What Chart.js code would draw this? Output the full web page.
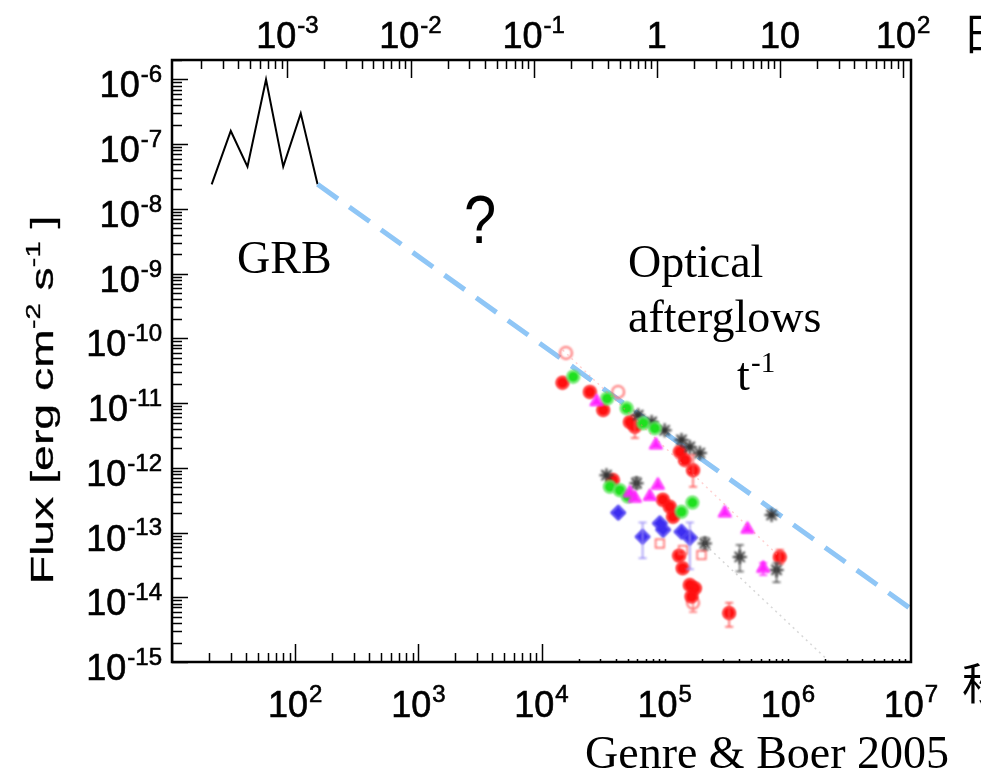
<!DOCTYPE html>
<html>
<head>
<meta charset="utf-8">
<script src="https://cdn.jsdelivr.net/npm/chart.js@4"></script>
<style>
  html, body { margin: 0; padding: 0; background: #fff; }
  #wrap { width: 981px; height: 776px; }
</style>
</head>
<body>
<div id="wrap"><canvas id="fluxChart" width="981" height="776"></canvas></div>
<script>
const SEC_PER_DAY = 86400;

// prompt GRB pulse (s, erg cm-2 s-1)
const grbTime = [21, 30, 41, 58, 80, 111, 152];
const grbFlux = [2.4e-8, 1.6e-7, 4.5e-8, 1.0e-6, 4.5e-8, 3.0e-7, 2.4e-8];

// power-law extrapolation from the end of the burst
const decayTime = [152, 1e7];
const decayFlux = [2.4e-8, 6.6e-15];

// faint model curves through the afterglow points
const pinkTrendTime = [1.49e4, 8.6e5];
const pinkTrendFlux = [6.6e-11, 4.2e-14];
const greyTrendTime = [1.82e5, 2.19e6];
const greyTrendFlux = [8.6e-14, 1.0e-15];

// optical afterglows
const redTime = [1.48e4, 2.47e4, 3.17e4, 5.22e4, 5.73e4, 1.33e5, 1.46e5, 1.70e5, 3.8e4, 9.67e4, 1.10e5, 1.17e5, 1.31e5, 1.40e5, 1.60e5, 1.76e5, 1.65e5, 3.34e5, 8.61e5];
const redFlux = [2.06e-11, 1.49e-11, 7.8e-12, 5.1e-12, 4.3e-12, 1.77e-12, 1.32e-12, 9.2e-13, 6.5e-13, 3.2e-13, 2.5e-13, 1.76e-13, 4.4e-14, 2.8e-14, 1.55e-14, 1.38e-14, 1.03e-14, 5.7e-15, 4.2e-14];
const redLo = [null, null, null, null, 2.9e-12, null, null, 5.1e-13, null, null, null, null, null, null, null, null, null, 3.5e-15, 3.3e-14];
const redHi = [null, null, null, null, 6.5e-12, null, null, 1.6e-12, null, null, null, null, null, null, null, null, null, 8.2e-15, 5.4e-14];

const redOpenTime = [1.58e4, 4.19e4, 1.70e5];
const redOpenFlux = [5.97e-11, 1.49e-11, 8.2e-15];
const redOpenLo = [null, null, 5.9e-15];
const redOpenHi = [null, null, 1.0e-14];

const greenTime = [1.81e4, 3.41e4, 4.91e4, 6.70e4, 8.32e4, 3.59e4, 4.33e4, 5.02e4, 1.37e5, 1.68e5];
const greenFlux = [2.55e-11, 1.18e-11, 8.3e-12, 4.9e-12, 4.1e-12, 5.1e-13, 4.5e-13, 3.6e-13, 2.1e-13, 2.9e-13];

const magentaTime = [2.80e4, 8.49e4, 5.22e4, 5.73e4, 7.59e4, 8.81e4, 3.08e5, 4.71e5, 6.31e5];
const magentaFlux = [1.05e-11, 2.25e-12, 4.1e-13, 3.4e-13, 3.6e-13, 5.4e-13, 2.0e-13, 1.12e-13, 2.8e-14];
const magentaLo = [null, null, null, null, null, null, null, null, 2.2e-14];
const magentaHi = [null, null, null, null, null, null, null, null, 3.4e-14];

const blackTime = [6.10e4, 7.84e4, 1.00e5, 1.37e5, 1.60e5, 1.93e5, 3.37e4, 5.91e4, 2.12e5, 4.07e5, 7.38e5, 8.10e5];
const blackFlux = [6.5e-12, 5.1e-12, 3.8e-12, 2.7e-12, 2.1e-12, 1.69e-12, 7.7e-13, 5.8e-13, 6.8e-14, 4.2e-14, 1.87e-13, 2.65e-14];
const blackLo = [null, null, null, null, null, null, null, 4.9e-13, 5.4e-14, 2.5e-14, null, 1.7e-14];
const blackHi = [null, null, null, null, null, null, null, 7.0e-13, 8.3e-14, 6.4e-14, null, 3.4e-14];

const blueTime = [4.20e4, 6.62e4, 9.14e4, 9.72e4, 1.37e5, 1.60e5];
const blueFlux = [2.03e-13, 8.6e-14, 1.39e-13, 1.10e-13, 1.03e-13, 8.3e-14];
const blueLo = [null, 4.0e-14, null, null, null, 2.7e-14];
const blueHi = [null, 1.43e-13, null, null, null, 1.43e-13];

const squareTime = [9.14e4, 1.41e5, 1.99e5];
const squareFlux = [6.8e-14, 5.4e-14, 4.5e-14];

// tick labels: [mantissa, exponent]
const bottomTicks = [1e2, 1e3, 1e4, 1e5, 1e6, 1e7];
const bottomLabels = [['10', '2'], ['10', '3'], ['10', '4'], ['10', '5'], ['10', '6'], ['10', '7']];
const topTicks = [1e-3, 1e-2, 1e-1, 1, 10, 100]; // days
const topLabels = [['10', '-3'], ['10', '-2'], ['10', '-1'], ['1', ''], ['10', ''], ['10', '2']];
const leftTicks = [1e-6, 1e-7, 1e-8, 1e-9, 1e-10, 1e-11, 1e-12, 1e-13, 1e-14, 1e-15];
const leftLabels = leftTicks.map(v => ['10', String(Math.round(Math.log10(v)))]);

const SANS = '"Liberation Sans", Arial, Helvetica, sans-serif';
const SERIF = '"Liberation Serif", "Times New Roman", serif';

function pts(xs, ys) {
    return xs.map((x, i) => ({ x: x, y: ys[i] }));
}

function errs(lo, hi) {
    return lo.map((l, i) => (l === null ? null : [l, hi[i]]));
}

// "10" with a raised exponent, slightly heavy like the axis lettering
function drawPower(ctx, base, exp, x, y, align, size) {
    const expSize = Math.round(size * 0.66);
    ctx.font = `${size}px ${SANS}`;
    const bw = ctx.measureText(base).width;
    ctx.font = `${expSize}px ${SANS}`;
    const ew = exp ? ctx.measureText(exp).width + 1 : 0;
    const total = bw + ew;
    let x0 = x;
    if (align === 'right') x0 = x - total;
    if (align === 'center') x0 = x - total / 2;
    ctx.textAlign = 'left';
    ctx.textBaseline = 'alphabetic';
    ctx.lineWidth = 0.6;
    ctx.font = `${size}px ${SANS}`;
    ctx.fillText(base, x0, y);
    ctx.strokeText(base, x0, y);
    if (exp) {
        ctx.font = `${expSize}px ${SANS}`;
        ctx.fillText(exp, x0 + bw + 1, y - size * 0.42);
        ctx.strokeText(exp, x0 + bw + 1, y - size * 0.42);
    }
}

// soft look + error bars for the afterglow markers
const markerPlugin = {
    id: 'markerExtras',
    beforeDatasetDraw(chart, args) {
        const ds = chart.data.datasets[args.index];
        if (ds.soft) {
            chart.ctx.save();
            chart.ctx.filter = 'blur(1px)';
        }
    },
    afterDatasetDraw(chart, args) {
        const ds = chart.data.datasets[args.index];
        const ctx = chart.ctx;
        if (ds.errors) {
            const { x, y } = chart.scales;
            ctx.save();
            ctx.strokeStyle = ds.errorColor || ds.borderColor;
            ctx.lineWidth = 1.5;
            ds.errors.forEach((e, i) => {
                if (!e) return;
                const px = x.getPixelForValue(ds.data[i].x);
                const y1 = y.getPixelForValue(e[0]);
                const y2 = y.getPixelForValue(e[1]);
                ctx.beginPath();
                ctx.moveTo(px, y1); ctx.lineTo(px, y2);
                ctx.moveTo(px - 4, y1); ctx.lineTo(px + 4, y1);
                ctx.moveTo(px - 4, y2); ctx.lineTo(px + 4, y2);
                ctx.stroke();
            });
            ctx.restore();
        }
        if (ds.soft) ctx.restore();
    }
};

// frame with inward log ticks, powers-of-ten labels and annotations
const framePlugin = {
    id: 'frame',
    afterDatasetsDraw(chart) {
        const { ctx, chartArea: a } = chart;
        const x = chart.scales.x;
        const y = chart.scales.y;
        ctx.save();
        ctx.strokeStyle = '#000';
        ctx.fillStyle = '#000';

        ctx.lineWidth = 1.5;
        ctx.beginPath();
        // left axis
        for (let e = -15; e <= -6; e++) {
            for (let k = 1; k <= 9; k++) {
                const v = k * Math.pow(10, e);
                if (v > y.max * 1.0001) break;
                const py = Math.round(y.getPixelForValue(v)) + 0.5;
                ctx.moveTo(a.left, py);
                ctx.lineTo(a.left + (k === 1 ? 16 : 10), py);
            }
        }
        // top axis (days)
        for (let d = -4; d <= 2; d++) {
            for (let k = 1; k <= 9; k++) {
                const s = k * Math.pow(10, d) * SEC_PER_DAY;
                if (s < x.min || s > x.max) continue;
                const px = Math.round(x.getPixelForValue(s)) + 0.5;
                ctx.moveTo(px, a.top);
                ctx.lineTo(px, a.top + (k === 1 ? 18 : 9));
            }
        }
        // bottom axis (seconds)
        for (let d = 1; d <= 6; d++) {
            for (let k = 1; k <= 9; k++) {
                const s = k * Math.pow(10, d);
                const px = Math.round(x.getPixelForValue(s)) + 0.5;
                let len = k === 1 ? 18 : 9;
                if (s > 1e4) len = 3;
                ctx.moveTo(px, a.bottom);
                ctx.lineTo(px, a.bottom - len);
            }
        }
        ctx.stroke();

        ctx.lineWidth = 2.5;
        ctx.strokeRect(a.left, a.top, a.right - a.left, a.bottom - a.top);

        // tick labels
        leftTicks.forEach((v, i) => {
            drawPower(ctx, leftLabels[i][0], leftLabels[i][1], 162, y.getPixelForValue(v) + 18, 'right', 36);
        });
        bottomTicks.forEach((v, i) => {
            drawPower(ctx, bottomLabels[i][0], bottomLabels[i][1], x.getPixelForValue(v), 717, 'center', 36);
        });
        topTicks.forEach((v, i) => {
            drawPower(ctx, topLabels[i][0], topLabels[i][1], x.getPixelForValue(v * SEC_PER_DAY), 48, 'center', 36);
        });

        // y-axis title, stretched along its length
        ctx.save();
        ctx.translate(53, 400);
        ctx.rotate(-Math.PI / 2);
        ctx.scale(1.45, 1);
        const parts = [['Flux [erg cm', 0], ['-2', 1], [' s', 0], ['-1', 1], [' ]', 0]];
        const size = 32;
        let total = 0;
        parts.forEach(p => {
            ctx.font = `${p[1] ? Math.round(size * 0.62) : size}px ${SANS}`;
            total += ctx.measureText(p[0]).width;
        });
        let cx = -total / 2;
        ctx.textAlign = 'left';
        ctx.lineWidth = 0.3;
        parts.forEach(p => {
            ctx.font = `${p[1] ? Math.round(size * 0.62) : size}px ${SANS}`;
            ctx.fillText(p[0], cx, p[1] ? -size * 0.42 : 0);
            ctx.strokeText(p[0], cx, p[1] ? -size * 0.42 : 0);
            cx += ctx.measureText(p[0]).width;
        });
        ctx.restore();

        // annotations
        ctx.textAlign = 'left';
        ctx.font = `46px ${SERIF}`;
        ctx.fillText('GRB', 237, 273);
        ctx.fillText('Optical', 628, 277);
        ctx.fillText('afterglows', 628, 332);
        ctx.fillText('t', 737, 390);
        ctx.font = `29px ${SERIF}`;
        ctx.fillText('-1', 751, 372);
        ctx.font = `46px ${SERIF}`;
        ctx.fillText('Genre & Boer 2005', 585, 768);
        ctx.save();
        ctx.translate(464, 243);
        ctx.scale(0.85, 1);
        ctx.font = `68px ${SANS}`;
        ctx.fillText('?', 0, 0);
        ctx.restore();
        ctx.font = `44px "Noto Sans CJK JP", sans-serif`;
        ctx.fillText('日', 962, 50);
        ctx.fillText('秒', 962, 700);
        ctx.restore();
    }
};

function markerSet(xs, ys, style) {
    return Object.assign({
        data: pts(xs, ys),
        showLine: false,
        soft: true,
        pointRadius: 6,
        pointBorderWidth: 1.5
    }, style);
}

const ctx = document.getElementById('fluxChart').getContext('2d');
new Chart(ctx, {
    type: 'scatter',
    data: {
        datasets: [
            {
                data: pts(pinkTrendTime, pinkTrendFlux),
                showLine: true, pointRadius: 0,
                borderColor: 'rgba(255,130,130,0.35)', borderWidth: 1.5, borderDash: [2, 4]
            },
            {
                data: pts(greyTrendTime, greyTrendFlux),
                showLine: true, pointRadius: 0,
                borderColor: 'rgba(140,140,140,0.35)', borderWidth: 1.5, borderDash: [2, 4]
            },
            markerSet(blueTime, blueFlux, {
                pointStyle: 'rectRot', pointRadius: 7,
                backgroundColor: '#3d2df0', borderColor: '#3d2df0',
                errors: errs(blueLo, blueHi), errorColor: '#9d90f5'
            }),
            markerSet(squareTime, squareFlux, {
                pointStyle: 'rect', pointRadius: 6,
                backgroundColor: 'rgba(255,255,255,0)', borderColor: '#ff6060'
            }),
            markerSet(magentaTime, magentaFlux, {
                pointStyle: 'triangle', pointRadius: 7,
                backgroundColor: '#ff22ff', borderColor: '#ff22ff',
                errors: errs(magentaLo, magentaHi)
            }),
            markerSet(greenTime, greenFlux, {
                pointStyle: 'circle',
                backgroundColor: '#1fe01f', borderColor: '#6fe86f'
            }),
            markerSet(blackTime, blackFlux, {
                pointStyle: 'star', pointRadius: 7, pointBorderWidth: 2,
                backgroundColor: '#333', borderColor: '#333',
                errors: errs(blackLo, blackHi), errorColor: '#555'
            }),
            markerSet(redTime, redFlux, {
                pointStyle: 'circle',
                backgroundColor: '#ff1010', borderColor: '#ff1010',
                errors: errs(redLo, redHi), errorColor: '#ff5050'
            }),
            markerSet(redOpenTime, redOpenFlux, {
                pointStyle: 'circle',
                backgroundColor: 'rgba(255,255,255,0)', borderColor: '#ff7070', pointBorderWidth: 2,
                errors: errs(redOpenLo, redOpenHi)
            }),
            {
                data: pts(decayTime, decayFlux),
                showLine: true, pointRadius: 0,
                borderColor: '#8fc6f6', borderWidth: 5, borderDash: [25, 14]
            },
            {
                data: pts(grbTime, grbFlux),
                showLine: true, pointRadius: 0, tension: 0,
                borderColor: '#000', borderWidth: 2
            }
        ]
    },
    options: {
        responsive: false,
        animation: false,
        layout: {
            padding: { left: 172, right: 70, top: 60, bottom: 114 }
        },
        plugins: {
            legend: { display: false },
            tooltip: { enabled: false }
        },
        scales: {
            x: { type: 'logarithmic', min: 10, max: 1e7, display: false },
            y: { type: 'logarithmic', min: 1e-15, max: 2e-6, display: false }
        }
    },
    plugins: [markerPlugin, framePlugin]
});
</script>
</body>
</html>
